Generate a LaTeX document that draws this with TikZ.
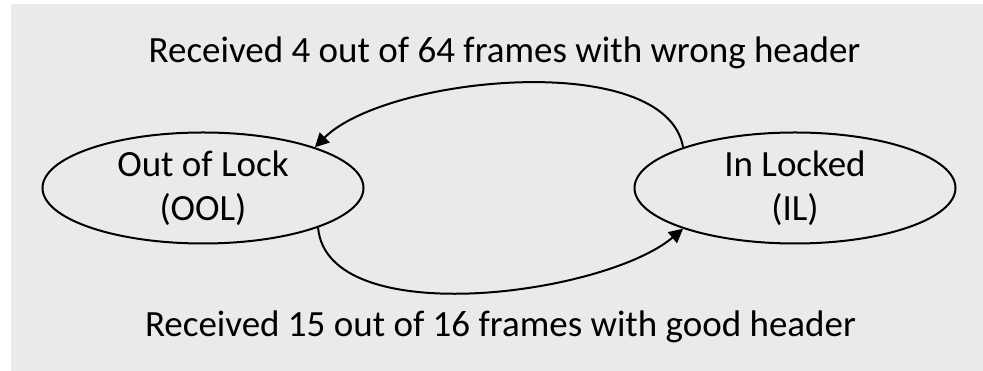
\documentclass[tikz,border=0pt]{standalone}
\usepackage{fontspec}
\setmainfont{Carlito}
\usetikzlibrary{shapes.geometric,arrows.meta}
\definecolor{bggray}{RGB}{234,234,234}
\begin{document}
\begin{tikzpicture}[x=1pt,y=1pt,
  state/.style={ellipse,draw=black,line width=2pt,inner sep=0pt,
    minimum width=321pt,minimum height=111pt,align=center,
    font=\fontsize{37}{44}\selectfont},
  lbl/.style={anchor=base,font=\fontsize{37}{44}\selectfont,inner sep=0pt},
  trans/.style={line width=2pt,-{Triangle[length=14pt,width=14pt]}}]
\useasboundingbox (0,0) rectangle (983,371);
\fill[bggray] (11,0) rectangle (983,367);
\node[state] (ool) at (203,183) {\raisebox{-2pt}{Out of Lock}\\\raisebox{-2pt}{(OOL)}};
\node[state] (il) at (795,183) {\raisebox{-2pt}{In Locked}\\\raisebox{-2pt}{(IL)}};
\node[lbl] (top) at (504.5,308) {Received 4 out of 64 frames with wrong header};
\node[lbl] (bot) at (500.5,34) {Received 15 out of 16 frames with good header};
\draw[trans] (il.160) to[out=100,in=45,looseness=0.7] (ool.20);
\draw[trans] (ool.341) to[out=-85,in=220,looseness=0.73] (il.200);
\end{tikzpicture}
\end{document}
